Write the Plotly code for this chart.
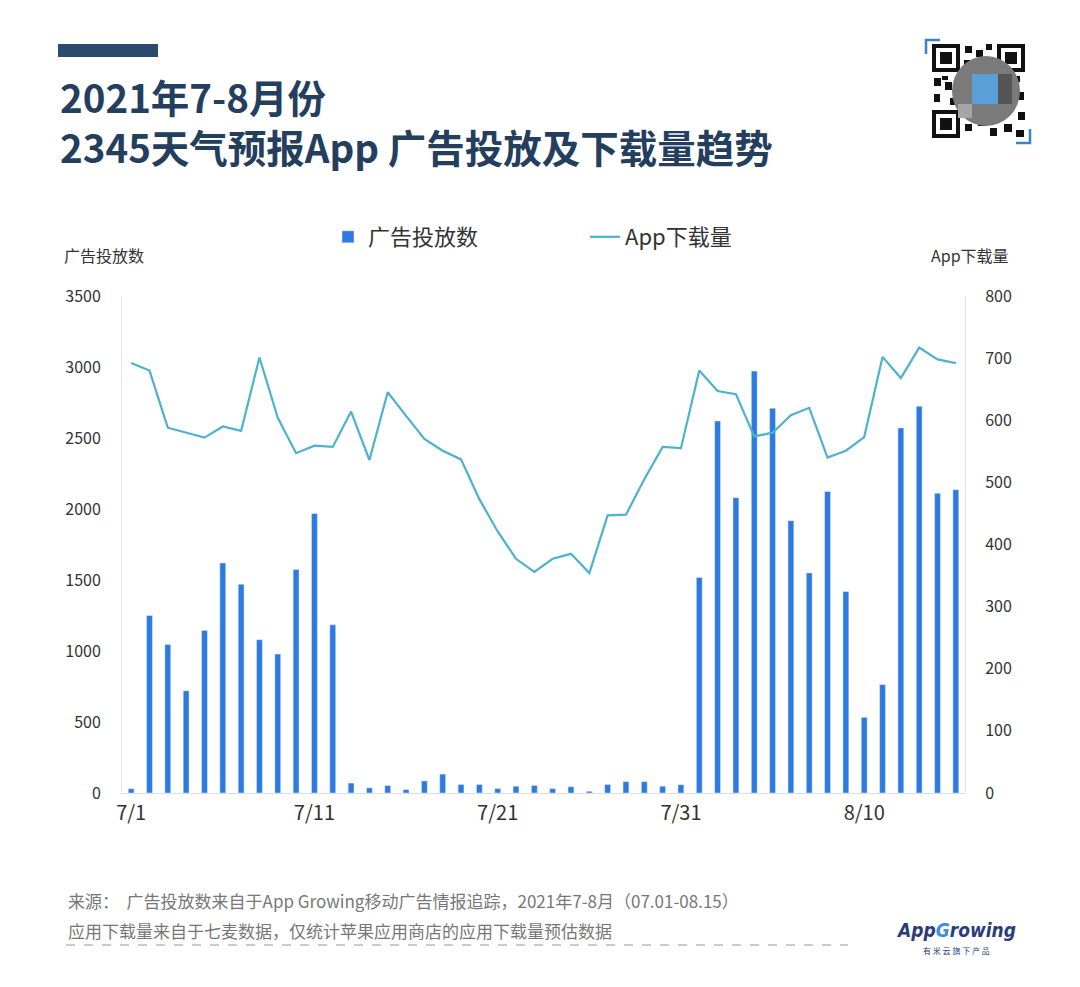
import plotly.graph_objects as go

# ---- data ----
dates = ["7/%d" % d for d in range(1, 32)] + ["8/%d" % d for d in range(1, 16)]
ad_counts = [30, 1250, 1045, 720, 1145, 1620, 1470, 1080, 978, 1574, 1968, 1184,
             70, 36, 53, 24, 85, 133, 60, 60, 31, 48, 53, 31, 44, 12, 60, 80, 80, 48, 58,
             1518, 2620, 2080, 2971, 2709, 1918, 1550, 2123, 1419, 533, 763, 2571, 2724, 2111, 2136]
downloads = [692, 680, 588, 580, 572, 590, 583, 701, 604, 547, 559, 557,
             614, 536, 645, 607, 570, 551, 537, 473, 421, 377, 356, 377, 385, 354, 447, 448, 505, 557, 555,
             680, 647, 642, 574, 580, 608, 620, 540, 551, 573, 702, 668, 717, 698, 692]
tick_labels = ["7/1", "7/11", "7/21", "7/31", "8/10"]
left_ticks = [0, 500, 1000, 1500, 2000, 2500, 3000, 3500]
right_ticks = [0, 100, 200, 300, 400, 500, 600, 700, 800]

W, H = 1080, 987
L, R, T, B = 122, 115, 296, 194
PW, PH = W - L - R, H - T - B

def px(x):
    return (x - L) / PW

def py(y):
    return (H - B - y) / PH

BAR_C = "#2d7ae0"
LINE_C = "#4cb2cd"
NAVY = "#243e5e"
CJK = "Noto Sans CJK SC"

fig = go.Figure()
fig.add_trace(go.Bar(x=dates, y=ad_counts, name="广告投放数", marker_color=BAR_C,
                     width=0.32, yaxis="y"))
fig.add_trace(go.Scatter(x=dates, y=downloads, name="App下载量", mode="lines",
                         line=dict(color=LINE_C, width=2.2), yaxis="y2"))

fig.update_layout(
    width=W, height=H,
    margin=dict(l=L, r=R, t=T, b=B),
    paper_bgcolor="white", plot_bgcolor="white",
    font=dict(family=CJK, color="#333333"),
    showlegend=True,
    legend=dict(orientation="h", x=px(328), y=py(237), xanchor="left", yanchor="middle",
                font=dict(size=22, color="#333333"), entrywidth=212, entrywidthmode="pixels",
                itemwidth=30, bgcolor="rgba(0,0,0,0)"),
    xaxis=dict(type="category", tickmode="array", tickvals=tick_labels, ticktext=tick_labels,
               showline=True, linecolor="#dddddd", linewidth=1, showgrid=False,
               ticks="", tickfont=dict(size=20, color="#333333"), ticklabelstandoff=2,
               range=[-0.5, len(dates) - 0.5]),
    yaxis=dict(range=[0, 3500], tickvals=left_ticks, showgrid=False, zeroline=False,
               showline=True, linecolor="#e6e6e6", linewidth=1, ticks="",
               tickfont=dict(size=16, color="#333333"), ticklabelstandoff=17),
    yaxis2=dict(range=[0, 800], tickvals=right_ticks, overlaying="y", side="right",
                showgrid=False, zeroline=False, showline=True, linecolor="#e6e6e6",
                linewidth=1, ticks="", tickfont=dict(size=16, color="#333333"),
                ticklabelstandoff=16),
)

anns = []
shapes = []

def ann(text, x, y, xanchor, size, color, family=CJK, align="left"):
    anns.append(dict(text=text, x=px(x), y=py(y), xref="paper", yref="paper",
                     xanchor=xanchor, yanchor="middle", showarrow=False, align=align,
                     font=dict(size=size, color=color, family=family)))

# title block
shapes.append(dict(type="rect", xref="paper", yref="paper", x0=px(58), x1=px(158),
                   y0=py(57), y1=py(44), fillcolor="#2a4a6e", line=dict(width=0)))
ann("<b>2021年7-8月份</b><br><b>2345天气预报App 广告投放及下载量趋势</b>", 58, 121, "left", 38.5, NAVY)
# axis titles
ann("广告投放数", 62, 255, "left", 16, "#333333")
ann("App下载量", 1011, 255, "right", 16, "#333333")
# footer
ann("来源：  广告投放数来自于App Growing移动广告情报追踪，2021年7-8月（07.01-08.15）",
    66, 900, "left", 17, "#777777")
ann("应用下载量来自于七麦数据，仅统计苹果应用商店的应用下载量预估数据", 66, 930, "left", 17, "#777777")
shapes.append(dict(type="line", xref="paper", yref="paper", x0=px(66), x1=px(848),
                   y0=py(945), y1=py(945), line=dict(color="#bbbbbb", width=1.5, dash="dash")))
# logo
ann("<i><b>App<span style='color:#3d8fe0'>G</span>rowing</b></i>", 956, 930, "center", 19,
    "#2b3d78", "DejaVu Sans Condensed")
ann("有 米 云 旗 下 产 品", 956, 950, "center", 8, "#2b3d78")

# QR-like decoration
def rect(x0, y0, x1, y1, color):
    shapes.append(dict(type="rect", xref="paper", yref="paper", x0=px(x0), x1=px(x1),
                       y0=py(y1), y1=py(y0), fillcolor=color, line=dict(width=0)))

for (fx, fy) in [(932, 44), (997, 44), (932, 110)]:
    rect(fx, fy, fx + 28, fy + 28, "#111111")
    rect(fx + 4, fy + 4, fx + 24, fy + 24, "white")
    rect(fx + 8, fy + 8, fx + 20, fy + 20, "#111111")
pattern = [(965, 46, 972, 53), (976, 50, 983, 57), (986, 44, 992, 50), (964, 60, 970, 68),
           (934, 78, 941, 86), (945, 82, 952, 90), (934, 94, 940, 102), (950, 98, 957, 105),
           (1004, 80, 1012, 88), (1016, 92, 1024, 100), (1005, 104, 1012, 110), (1018, 112, 1025, 120),
           (965, 124, 972, 131), (978, 118, 986, 126), (990, 128, 997, 136), (1004, 124, 1012, 132),
           (1016, 130, 1024, 137), (942, 76, 948, 80), (1012, 76, 1020, 82)]
for p in pattern:
    rect(*p, "#111111")
shapes.append(dict(type="circle", xref="paper", yref="paper", x0=px(952), x1=px(1020),
                   y0=py(126), y1=py(56), fillcolor="#7a7a7a", line=dict(width=0)))
rect(972, 74, 998, 104, "#5a9fd8")
rect(998, 74, 1012, 104, "#555555")
rect(958, 104, 972, 118, "#a5a5a5")
# blue brackets
shapes.append(dict(type="path", xref="paper", yref="paper",
                   path="M %f %f L %f %f L %f %f" % (px(926), py(54), px(926), py(40), px(940), py(40)),
                   line=dict(color="#3d7fd0", width=2.5)))
shapes.append(dict(type="path", xref="paper", yref="paper",
                   path="M %f %f L %f %f L %f %f" % (px(1016), py(143), px(1030), py(143), px(1030), py(129)),
                   line=dict(color="#3d7fd0", width=2.5)))

fig.update_layout(annotations=anns, shapes=shapes)
fig.write_html("out.html")
